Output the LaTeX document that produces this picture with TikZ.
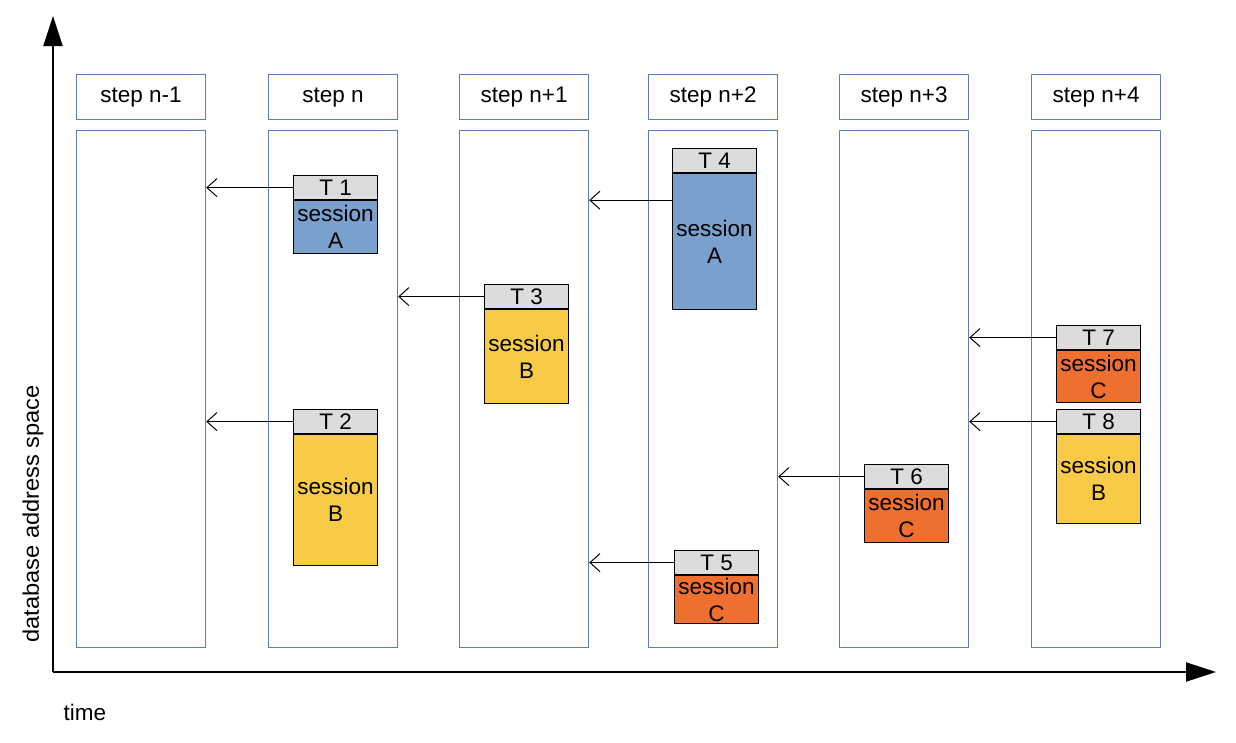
\documentclass[tikz,border=0pt]{standalone}
\usepackage{fontspec}
\setmainfont{Liberation Sans}
\usepackage{xcolor}
\usetikzlibrary{arrows.meta,positioning}
\definecolor{laneblue}{HTML}{5A7FBE}
\definecolor{headgray}{HTML}{DCDCDC}
\definecolor{sessA}{HTML}{7AA0CD}
\definecolor{sessB}{HTML}{F7CB45}
\definecolor{sessC}{HTML}{EE6F2E}
\newcommand{\txtsize}{\fontsize{22.5}{27}\selectfont}

\begin{document}
\begin{tikzpicture}[x=1pt,y=-1pt,
  lane/.style={draw=laneblue,line width=1.2pt,minimum width=129pt,inner sep=0pt},
  stepbox/.style={lane,anchor=north west,minimum height=45pt,font=\txtsize},
  thead/.style={draw,line width=1.2pt,fill=headgray,anchor=north west,minimum width=84pt,
    minimum height=24pt,inner sep=0pt,font=\txtsize},
  tbody/.style={draw,line width=1.2pt,minimum width=84pt,inner sep=0pt,align=center,font=\txtsize},
  back/.style={-{Straight Barb[length=10pt,width=18pt]},line width=1pt},
  axis/.style={-{Triangle[length=30pt,width=19pt]},line width=2pt}]
  \useasboundingbox (0,0) rectangle (1236,742);
  % axes
  \coordinate (o) at (53,672);
  \coordinate (ytop) at (53,16);
  \coordinate (xend) at (1216,672);
  \draw[axis] (o) -- (ytop);
  \draw[axis] (o) -- (xend);
  \node[anchor=west,font=\txtsize] (time) at (60,712) {time};
  \node[rotate=90,font=\txtsize,xscale=1.05] (space) at (33,514) {database address space};
  % steps
  \foreach \i/\x/\lab in {1/76/n-1,2/268/n,3/459/n+1,4/648/n+2,5/839/n+3,6/1031/n+4} {
    \node[stepbox] (s\i) at (\x,74) {step \lab};
    \node[lane,minimum height=517pt,below=10pt of s\i] (l\i) {};
  }
  % transactions
  \node[thead] (t1) at (293,175) {T 1};
  \node[tbody,fill=sessA,minimum height=53pt,below=0pt of t1] (t1b) {session\\A};
  \node[thead] (t2) at (293,409) {T 2};
  \node[tbody,fill=sessB,minimum height=131pt,below=0pt of t2] (t2b) {session\\B};
  \node[thead] (t3) at (484,284) {T 3};
  \node[tbody,fill=sessB,minimum height=94pt,below=0pt of t3] (t3b) {session\\B};
  \node[thead] (t4) at (672,148) {T 4};
  \node[tbody,fill=sessA,minimum height=136pt,below=0pt of t4] (t4b) {session\\A};
  \node[thead] (t5) at (674,550) {T 5};
  \node[tbody,fill=sessC,minimum height=48pt,below=0pt of t5] (t5b) {session\\C};
  \node[thead] (t6) at (864,464) {T 6};
  \node[tbody,fill=sessC,minimum height=53pt,below=0pt of t6] (t6b) {session\\C};
  \node[thead] (t7) at (1056,325) {T 7};
  \node[tbody,fill=sessC,minimum height=52pt,below=0pt of t7] (t7b) {session\\C};
  \node[thead] (t8) at (1056,409) {T 8};
  \node[tbody,fill=sessB,minimum height=89pt,below=0pt of t8] (t8b) {session\\B};
  % back references
  \coordinate (a4) at ([yshift=-27pt]t4b.north west);
  \draw[back] (t1.west) -- (t1.west -| l1.east);
  \draw[back] (t2.west) -- (t2.west -| l1.east);
  \draw[back] (t3.west) -- (t3.west -| l2.east);
  \draw[back] (a4) -- (a4 -| l3.east);
  \draw[back] (t5.west) -- (t5.west -| l3.east);
  \draw[back] (t6.west) -- (t6.west -| l4.east);
  \draw[back] (t7.west) -- (t7.west -| l5.east);
  \draw[back] (t8.west) -- (t8.west -| l5.east);
\end{tikzpicture}
\end{document}
